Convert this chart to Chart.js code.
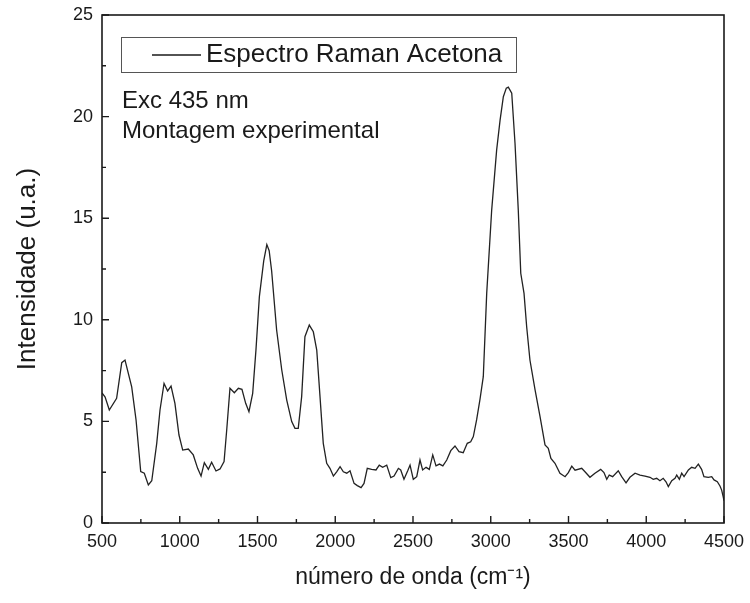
<!DOCTYPE html>
<html>
<head>
<meta charset="utf-8">
<script src="https://cdn.jsdelivr.net/npm/chart.js@4.4.1/dist/chart.umd.min.js"></script>
<style>
  html, body { margin: 0; padding: 0; background: #fff; }
  #wrap { width: 750px; height: 603px; }
</style>
</head>
<body>
<div id="wrap"><canvas id="c" width="750" height="603"></canvas></div>
<script>
// Raman spectrum of acetone
const waveNumber = [
  500, 520, 547, 594, 627, 648, 691, 719, 749, 772, 798, 820, 852, 873, 899, 922, 944, 969, 995,
  1019, 1055, 1087, 1115, 1137, 1158, 1184, 1205, 1233, 1259, 1285, 1302, 1323, 1351, 1377, 1400,
  1424, 1445, 1469, 1490, 1512, 1540, 1560, 1575, 1591, 1623, 1656, 1688, 1720, 1741, 1762, 1784,
  1805, 1833, 1859, 1881, 1902, 1913, 1923, 1945, 1966, 1988, 2009, 2031, 2052, 2074, 2095, 2121,
  2142, 2166, 2185, 2206, 2234, 2262, 2283, 2305, 2331, 2357, 2378, 2406, 2421, 2442, 2466, 2481,
  2502, 2524, 2545, 2562, 2584, 2605, 2627, 2648, 2670, 2692, 2717, 2743, 2770, 2796, 2823, 2849,
  2871, 2888, 2909, 2931, 2952, 2974, 3006, 3038, 3060, 3081, 3100, 3113, 3135, 3156, 3177, 3193,
  3214, 3231, 3252, 3285, 3317, 3349, 3370, 3387, 3413, 3445, 3478, 3499, 3521, 3542, 3585, 3606,
  3638, 3670, 3707, 3728, 3746, 3762, 3784, 3820, 3842, 3870, 3895, 3928, 3960, 3992, 4024, 4045,
  4067, 4088, 4109, 4127, 4142, 4164, 4185, 4196, 4213, 4228, 4243, 4271, 4292, 4314, 4335, 4356,
  4371, 4399, 4421, 4436, 4457, 4474, 4485, 4495, 4500
];
const intensity = [
  6.4, 6.2, 5.56, 6.14, 7.89, 8.02, 6.7, 5.07, 2.53, 2.45, 1.87, 2.08, 3.92, 5.56, 6.87, 6.5, 6.74, 5.89, 4.33,
  3.59, 3.64, 3.35, 2.69, 2.31, 2.97, 2.64, 2.99, 2.56, 2.66, 3.02, 4.58, 6.63, 6.41, 6.63, 6.58,
  5.89, 5.48, 6.38, 8.51, 11.14, 12.9, 13.7, 13.4, 12.4, 9.5, 7.53, 6.05, 4.99, 4.66, 4.66, 6.22,
  9.17, 9.74, 9.41, 8.51, 6.22, 5.0, 3.92, 2.94, 2.69, 2.31, 2.52, 2.77, 2.52, 2.45, 2.57, 1.95,
  1.84, 1.74, 1.95, 2.69, 2.64, 2.61, 2.85, 2.74, 2.85, 2.23, 2.31, 2.69, 2.61, 2.15, 2.57, 2.85,
  2.15, 2.28, 3.1, 2.61, 2.74, 2.64, 3.35, 2.81, 2.9, 2.81, 3.1, 3.56, 3.79, 3.51, 3.46, 3.92,
  4.0, 4.25, 5.07, 6.1, 7.2, 11.3, 15.4, 18.36, 19.83, 20.98, 21.4, 21.45, 21.15, 18.69, 15.4, 12.29,
  11.3, 9.66, 8.02, 6.55, 5.23, 3.84, 3.68, 3.18, 2.94, 2.45, 2.28, 2.48, 2.8, 2.6, 2.69, 2.52,
  2.25, 2.45, 2.64, 2.48, 2.15, 2.36, 2.28, 2.57, 2.28, 1.98, 2.25, 2.45, 2.36, 2.31, 2.25, 2.15,
  2.2, 2.08, 2.2, 2.03, 1.79, 2.08, 2.2, 2.36, 2.15, 2.45, 2.28, 2.61, 2.74, 2.69, 2.9, 2.64,
  2.28, 2.25, 2.28, 2.12, 2.03, 1.82, 1.62, 1.29, 1.1
];
const xTicks = [500, 1000, 1500, 2000, 2500, 3000, 3500, 4000, 4500];
const xMinorTicks = [750, 1250, 1750, 2250, 2750, 3250, 3750, 4250];
const yTicks = [0, 5, 10, 15, 20, 25];
const yMinorTicks = [2.5, 7.5, 12.5, 17.5, 22.5];
const seriesLabel = "Espectro Raman Acetona";
const noteLines = ["Exc 435 nm", "Montagem experimental"];

const FONT = "'Liberation Sans', Arial, sans-serif";
const INK = "#1a1a1a";

// frame, inward ticks, boxed legend and note text
const framePlugin = {
  id: "frame",
  afterDraw(chart) {
    const { ctx, chartArea: a, scales: { x, y } } = chart;
    ctx.save();
    ctx.strokeStyle = INK;
    ctx.lineWidth = 1.6;
    ctx.strokeRect(a.left, a.top, a.right - a.left, a.bottom - a.top);
    ctx.lineWidth = 1.4;
    ctx.beginPath();
    xTicks.forEach((v) => { const p = x.getPixelForValue(v); ctx.moveTo(p, a.bottom); ctx.lineTo(p, a.bottom - 7); });
    xMinorTicks.forEach((v) => { const p = x.getPixelForValue(v); ctx.moveTo(p, a.bottom); ctx.lineTo(p, a.bottom - 4); });
    yTicks.forEach((v) => { const p = y.getPixelForValue(v); ctx.moveTo(a.left, p); ctx.lineTo(a.left + 7, p); });
    yMinorTicks.forEach((v) => { const p = y.getPixelForValue(v); ctx.moveTo(a.left, p); ctx.lineTo(a.left + 4, p); });
    ctx.stroke();

    // legend box
    ctx.lineWidth = 1;
    ctx.strokeStyle = "#555";
    ctx.strokeRect(121.5, 37.5, 395, 35);
    ctx.strokeStyle = INK;
    ctx.lineWidth = 1.3;
    ctx.beginPath();
    ctx.moveTo(152, 55);
    ctx.lineTo(201, 55);
    ctx.stroke();
    ctx.fillStyle = INK;
    ctx.textBaseline = "middle";
    ctx.font = "26px " + FONT;
    ctx.fillText(chart.data.datasets[0].label, 206, 55);

    ctx.font = "24px " + FONT;
    noteLines.forEach((t, i) => ctx.fillText(t, 122, 101 + i * 30));
    ctx.restore();
  }
};

new Chart(document.getElementById("c"), {
  type: "line",
  data: {
    datasets: [{
      label: seriesLabel,
      data: waveNumber.map((w, i) => ({ x: w, y: intensity[i] })),
      borderColor: "#222",
      borderWidth: 1.3,
      pointRadius: 0,
      tension: 0,
      fill: false
    }]
  },
  options: {
    responsive: false,
    animation: false,
    layout: { padding: { top: 15, right: 26, left: 0, bottom: 0 } },
    plugins: { legend: { display: false }, tooltip: { enabled: false } },
    scales: {
      x: {
        type: "linear",
        min: 500,
        max: 4500,
        afterBuildTicks: (s) => { s.ticks = xTicks.map((v) => ({ value: v })); },
        afterFit: (s) => { s.height = 80; s.paddingRight = 0; },
        grid: { display: false, drawTicks: false },
        border: { display: false },
        ticks: { color: INK, font: { family: FONT, size: 18 }, padding: 8, maxRotation: 0, callback: (v) => String(v) },
        title: { display: true, text: "número de onda (cm⁻¹)", color: INK, font: { family: FONT, size: 23 }, padding: { bottom: 12 } }
      },
      y: {
        min: 0,
        max: 25,
        afterBuildTicks: (s) => { s.ticks = yTicks.map((v) => ({ value: v })); },
        afterFit: (s) => { s.width = 102; s.paddingTop = 0; s.paddingBottom = 0; },
        grid: { display: false, drawTicks: false },
        border: { display: false },
        ticks: { color: INK, font: { family: FONT, size: 18 }, padding: 9, callback: (v) => String(v) },
        title: { display: true, text: "Intensidade (u.a.)", color: INK, font: { family: FONT, size: 26 }, padding: { top: 12 } }
      }
    }
  },
  plugins: [framePlugin]
});
</script>
</body>
</html>
